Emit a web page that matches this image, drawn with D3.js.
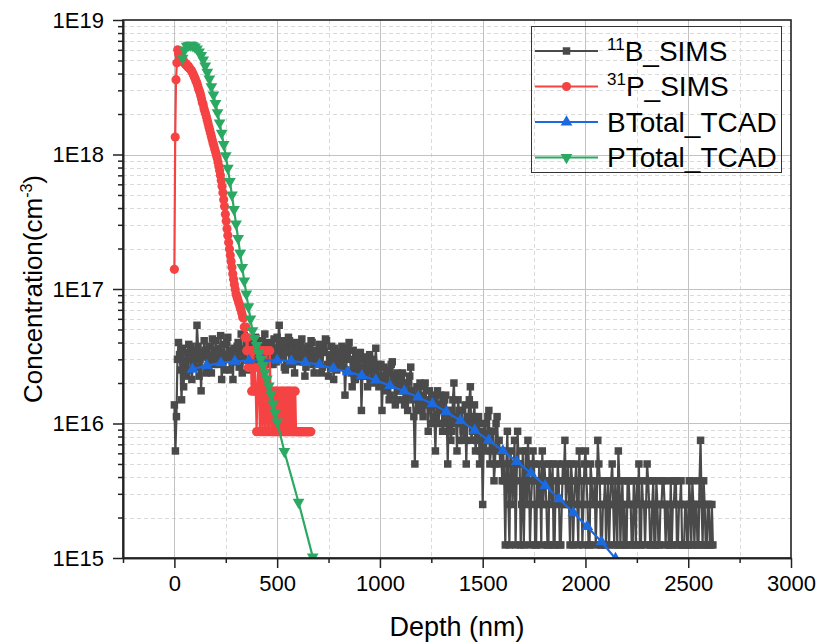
<!DOCTYPE html>
<html>
<head>
<meta charset="utf-8">
<script src="https://cdn.jsdelivr.net/npm/d3@7"></script>
<style>
  body { margin: 0; background: #fff; }
  text { font-family: Arial, "Liberation Sans", sans-serif; fill: #000; }
</style>
</head>
<body>
<div id="chart"></div>
<script>
// ---- data ----
// 11B SIMS: one point every 5 nm, in counts of 1.25E15 cm-3 (20 points per row = 100 nm)
var bSimsStep = 5;
var bSimsUnit = 1.25e15;
var bSimsCounts = [
  11, 5, 9, 24, 32, 26, 20, 12, 29, 15, 23, 27, 18, 20, 31, 24, 30, 17, 22, 28,
  26, 21, 43, 30, 18, 24, 14, 27, 25, 33, 28, 19, 21, 26, 30, 23, 19, 34, 26, 22,
  33, 25, 22, 29, 27, 36, 17, 23, 31, 20, 24, 32, 35, 26, 20, 28, 26, 17, 29, 24,
  23, 30, 32, 21, 27, 37, 19, 25, 36, 28, 25, 33, 30, 20, 22, 31, 34, 24, 26, 35,
  28, 24, 21, 30, 33, 18, 26, 29, 37, 27, 24, 32, 29, 22, 31, 26, 22, 34, 27, 23,
  35, 29, 43, 26, 25, 33, 30, 21, 20, 27, 28, 35, 33, 22, 24, 30, 31, 19, 26, 32,
  29, 24, 23, 31, 34, 26, 27, 18, 21, 29, 30, 23, 25, 33, 32, 22, 19, 27, 28, 24,
  24, 31, 30, 19, 21, 28, 27, 34, 33, 22, 18, 25, 26, 30, 23, 17, 29, 25, 20, 27,
  27, 21, 22, 30, 24, 28, 13, 20, 25, 29, 32, 24, 19, 15, 28, 23, 17, 26, 23, 19,
  21, 27, 10, 18, 24, 20, 18, 25, 15, 22, 26, 17, 20, 24, 16, 19, 29, 21, 22, 15,
  17, 22, 10, 18, 21, 14, 15, 20, 19, 12, 13, 22, 23, 17, 16, 11, 12, 19, 18, 14,
  14, 17, 19, 12, 11, 16, 16, 10, 13, 18, 21, 14, 12, 9, 4, 13, 15, 10, 11, 16,
  13, 10, 9, 15, 16, 12, 11, 7, 14, 12, 8, 13, 12, 9, 5, 11, 14, 8, 10, 13,
  11, 7, 8, 12, 13, 9, 4, 10, 10, 6, 7, 12, 16, 8, 9, 5, 12, 10, 8, 6,
  10, 7, 6, 11, 4, 8, 9, 12, 15, 6, 7, 9, 11, 5, 6, 8, 9, 4, 5, 7,
  2, 6, 8, 5, 6, 9, 10, 4, 5, 7, 7, 3, 4, 8, 9, 5, 6, 4, 5, 3,
  5, 3, 1, 4, 7, 2, 1, 5, 4, 2, 3, 6, 1, 3, 7, 4, 4, 1, 2, 5,
  1, 3, 5, 2, 6, 4, 1, 2, 3, 5, 4, 1, 1, 3, 2, 4, 3, 1, 5, 2,
  4, 3, 2, 1, 1, 4, 3, 2, 4, 1, 1, 3, 2, 4, 3, 1, 1, 2, 4, 3,
  6, 2, 3, 4, 2, 1, 4, 3, 1, 2, 3, 4, 2, 1, 5, 3, 3, 1, 2, 4,
  5, 3, 2, 1, 1, 4, 3, 2, 2, 3, 1, 2, 6, 4, 3, 1, 1, 2, 2, 3,
  1, 2, 3, 1, 2, 3, 4, 2, 1, 3, 2, 1, 5, 3, 1, 2, 3, 1, 2, 1,
  1, 3, 3, 2, 2, 1, 1, 3, 2, 1, 3, 2, 4, 1, 1, 3, 2, 2, 1, 2,
  4, 3, 2, 1, 1, 2, 3, 1, 1, 3, 2, 1, 1, 2, 2, 3, 3, 2, 1, 2,
  2, 1, 1, 3, 1, 2, 2, 3, 3, 1, 1, 2, 2, 3, 1, 1, 1, 2, 2, 1,
  1, 3, 2, 1, 3, 2, 1, 2, 2, 1, 1, 3, 6, 2, 1, 3, 2, 1, 1, 2,
  2, 1, 1, 2, 1
];

// 31P SIMS: one point every 4 nm, in 1E15 cm-3
var pSimsStep = 4;
var pSimsValues = [
  140, 1350, 3600, 4800, 6000, 5600, 5300, 5400, 5100, 5000, 4900, 5000, 4800, 4700, 4750, 4600,
  4500, 4550, 4400, 4350, 4250, 4200, 4050, 3950, 3800, 3700, 3550, 3450, 3300, 3150, 3000, 2900,
  2750, 2600, 2450, 2350, 2200, 2100, 2000, 1900, 1800, 1700, 1600, 1520, 1440, 1360, 1290, 1220,
  1160, 1100, 1050, 990, 940, 880, 820, 760, 700, 640, 580, 520, 460, 410, 360, 320,
  280, 250, 222, 198, 178, 160, 145, 130, 118, 108, 99, 92, 88, 84, 80, 77,
  73, 70, 66, 62, 60.9, 52.2, 43.5, 52.2, 34.8, 43.5, 26.1,
  34.8, 26.1, 34.8, 17.4, 26.1, 34.8, 17.4, 26.1, 17.4, 8.7,
  17.4, 26.1, 17.4, 8.7, 34.8, 17.4, 8.7, 34.8, 17.4, 8.7,
  17.4, 34.8, 8.7, 17.4, 8.7, 34.8, 17.4, 8.7, 17.4, 8.7,
  8.7, 17.4, 8.7, 17.4, 8.7, 17.4, 8.7, 8.7, 17.4, 8.7,
  17.4, 8.7, 17.4, 8.7, 8.7, 17.4, 8.7, 17.4, 8.7, 17.4,
  8.7, 17.4, 8.7, 8.7, 17.4, 8.7, 17.4, 8.7, 8.7, 8.7,
  8.7, 8.7, 8.7, 8.7, 8.7, 8.7, 8.7, 8.7, 8.7, 8.7, 8.7, 8.7, 8.7, 8.7, 8.7, 8.7
];

// TCAD totals, depth in nm, value in 1E15 cm-3
var bTcadDepth = [88, 157, 226, 294, 363, 431, 500, 569, 637, 706, 774, 843, 912, 980, 1049, 1118,
  1186, 1255, 1323, 1392, 1461, 1529, 1598, 1666, 1735, 1804, 1872, 1941, 2009, 2078, 2146];
var bTcadValues = [25.3, 27.0, 28.2, 29.0, 29.4, 29.5, 29.5, 29.1, 28.4, 27.4, 25.6, 24.2, 22.7, 21.0, 19.1, 17.4,
  15.7, 14.0, 12.2, 10.5, 8.9, 7.5, 6.28, 5.2, 4.27, 3.45, 2.75, 2.17, 1.71, 1.32, 0.99];

var pTcadDepth = [40, 50, 60, 70, 80, 90, 100, 110, 120, 130, 140, 150, 160, 170, 180, 190,
  200, 210, 220, 230, 240, 250, 260, 270, 280, 290, 300, 310, 320, 330, 340, 350,
  360, 370, 380, 390, 400, 410, 420, 430, 440, 450, 460, 470, 480, 490, 500, 535, 604, 673];
var pTcadValues = [5200, 6000, 6400, 6500, 6500, 6450, 6300, 6100, 5800, 5450, 5050, 4550, 4100, 3650, 3200, 2780,
  2400, 2050, 1720, 1440, 1190, 980, 790, 630, 500, 390, 305, 238, 185, 145, 115, 92,
  74, 60, 49, 43, 38, 33.5, 30, 27, 24, 21.5, 19, 16.5, 14, 12, 10.3, 6.2, 2.6, 1.02];

var xTicks = [0, 500, 1000, 1500, 2000, 2500, 3000];
var yTicks = [1e15, 1e16, 1e17, 1e18, 1e19];
var yTickLabels = ["1E15", "1E16", "1E17", "1E18", "1E19"];
var seriesSup = ["11", "31", "", ""];
var seriesNames = ["B_SIMS", "P_SIMS", "BTotal_TCAD", "PTotal_TCAD"];
var seriesColors = ["#4a4a4a", "#f54343", "#1b6ae0", "#2ba862"];

// ---- chart ----
var width = 818, height = 643;
var plotL = 123, plotR = 791, plotT = 20, plotB = 558;

var svg = d3.select("#chart").append("svg")
  .attr("width", width)
  .attr("height", height);

var x = d3.scaleLinear().domain([-250, 3000]).range([plotL, plotR]);
var y = d3.scaleLog().domain([1e15, 1e19]).range([plotB, plotT]);

var xMinor = d3.range(-250, 3001, 250).filter(function(d){ return d % 500 !== 0; });
var yMinor = y.ticks().filter(function(d){ return yTicks.indexOf(d) < 0; });

// grid
var grid = svg.append("g");
grid.selectAll(".gxm").data(xMinor.filter(function(d){ return d > -250; })).enter().append("line")
  .attr("x1", function(d){ return Math.round(x(d)) + 0.5; })
  .attr("x2", function(d){ return Math.round(x(d)) + 0.5; })
  .attr("y1", plotT).attr("y2", plotB)
  .attr("stroke", "#dadada").attr("stroke-dasharray", "4,3");
grid.selectAll(".gym").data(yMinor).enter().append("line")
  .attr("y1", function(d){ return Math.round(y(d)) + 0.5; })
  .attr("y2", function(d){ return Math.round(y(d)) + 0.5; })
  .attr("x1", plotL).attr("x2", plotR)
  .attr("stroke", "#dadada").attr("stroke-dasharray", "4,3");
grid.selectAll(".gx").data(xTicks.slice(0, -1)).enter().append("line")
  .attr("x1", function(d){ return Math.round(x(d)) + 0.5; })
  .attr("x2", function(d){ return Math.round(x(d)) + 0.5; })
  .attr("y1", plotT).attr("y2", plotB)
  .attr("stroke", "#c2c2c2");
grid.selectAll(".gy").data(yTicks.slice(1, -1)).enter().append("line")
  .attr("y1", function(d){ return Math.round(y(d)) + 0.5; })
  .attr("y2", function(d){ return Math.round(y(d)) + 0.5; })
  .attr("x1", plotL).attr("x2", plotR)
  .attr("stroke", "#c2c2c2");

svg.append("clipPath").attr("id", "plotclip")
  .append("rect").attr("x", plotL).attr("y", plotT)
  .attr("width", plotR - plotL).attr("height", plotB - plotT);

var series = [
  bSimsCounts.map(function(c, i){ return [i * bSimsStep, c * bSimsUnit]; }),
  pSimsValues.map(function(v, i){ return [i * pSimsStep, v * 1e15]; }),
  bTcadDepth.map(function(d, i){ return [d, bTcadValues[i] * 1e15]; }),
  pTcadDepth.map(function(d, i){ return [d, pTcadValues[i] * 1e15]; })
];
var symbols = [d3.symbolSquare, d3.symbolCircle, d3.symbolTriangle, d3.symbolTriangle];
var symSizes = [56, 66, 60, 60];
var symRotate = [0, 0, 0, 180];

var line = d3.line()
  .x(function(d){ return x(d[0]); })
  .y(function(d){ return y(d[1]); });

var plot = svg.append("g").attr("clip-path", "url(#plotclip)");
series.forEach(function(pts, s){
  var g = plot.append("g");
  g.append("path").datum(pts)
    .attr("d", line)
    .attr("fill", "none")
    .attr("stroke", seriesColors[s])
    .attr("stroke-width", 2.2);
  g.selectAll("path.m").data(pts).enter().append("path")
    .attr("class", "m")
    .attr("d", d3.symbol().type(symbols[s]).size(symSizes[s]))
    .attr("fill", seriesColors[s])
    .attr("transform", function(d){
      return "translate(" + x(d[0]) + "," + y(d[1]) + ") rotate(" + symRotate[s] + ")";
    });
});

// frame
svg.append("rect")
  .attr("x", plotL).attr("y", plotT)
  .attr("width", plotR - plotL).attr("height", plotB - plotT)
  .attr("fill", "none").attr("stroke", "#222").attr("stroke-width", 1.6);

// axes
var xAxis = svg.append("g").attr("transform", "translate(0," + plotB + ")")
  .call(d3.axisBottom(x).tickValues(xTicks).tickSize(10).tickSizeOuter(0).tickPadding(7)
    .tickFormat(d3.format("d")));
var xAxisMinor = svg.append("g").attr("transform", "translate(0," + plotB + ")")
  .call(d3.axisBottom(x).tickValues(xMinor).tickSize(5).tickSizeOuter(0).tickFormat(""));
var yAxis = svg.append("g").attr("transform", "translate(" + plotL + ",0)")
  .call(d3.axisLeft(y).tickValues(yTicks).tickSize(10).tickSizeOuter(0).tickPadding(9)
    .tickFormat(function(d, i){ return yTickLabels[i]; }));
var yAxisMinor = svg.append("g").attr("transform", "translate(" + plotL + ",0)")
  .call(d3.axisLeft(y).tickValues(yMinor).tickSize(5).tickSizeOuter(0).tickFormat(""));

[xAxis, xAxisMinor, yAxis, yAxisMinor].forEach(function(a){
  a.select(".domain").attr("stroke", "#222").attr("stroke-width", 1.6);
  a.selectAll(".tick line").attr("stroke", "#222").attr("stroke-width", 1.5);
  a.selectAll("text").style("font-size", "22px").style("font-family", "Arial, 'Liberation Sans', sans-serif");
});

// axis titles
svg.append("text")
  .attr("x", (plotL + plotR) / 2).attr("y", 636)
  .attr("text-anchor", "middle")
  .style("font-size", "27px")
  .text("Depth (nm)");

var yTitle = svg.append("text")
  .attr("transform", "translate(42," + (plotT + plotB) / 2 + ") rotate(-90)")
  .attr("text-anchor", "middle")
  .style("font-size", "26px");
yTitle.append("tspan").text("Concentration(cm");
yTitle.append("tspan").attr("dy", -10).style("font-size", "16px").text("-3");
yTitle.append("tspan").attr("dy", 10).text(")");

// legend
var legend = svg.append("g");
legend.append("rect")
  .attr("x", 531.5).attr("y", 26.5)
  .attr("width", 250).attr("height", 146)
  .attr("fill", "none").attr("stroke", "#333").attr("stroke-width", 1);

seriesNames.forEach(function(name, i){
  var ly = 51 + i * 35.5;
  var item = legend.append("g");
  item.append("line")
    .attr("x1", 535).attr("x2", 598).attr("y1", ly).attr("y2", ly)
    .attr("stroke", seriesColors[i]).attr("stroke-width", 2.2);
  item.append("path")
    .attr("d", d3.symbol().type(symbols[i]).size(symSizes[i]))
    .attr("fill", seriesColors[i])
    .attr("transform", "translate(566.5," + ly + ") rotate(" + symRotate[i] + ")");
  var t = item.append("text")
    .attr("x", 607).attr("y", ly + 9.5)
    .style("font-size", "28px");
  if (seriesSup[i]) {
    t.append("tspan").attr("dy", -11).style("font-size", "17px").text(seriesSup[i]);
    t.append("tspan").attr("dy", 11).text(name);
  } else {
    t.append("tspan").text(name);
  }
});
</script>
</body>
</html>
